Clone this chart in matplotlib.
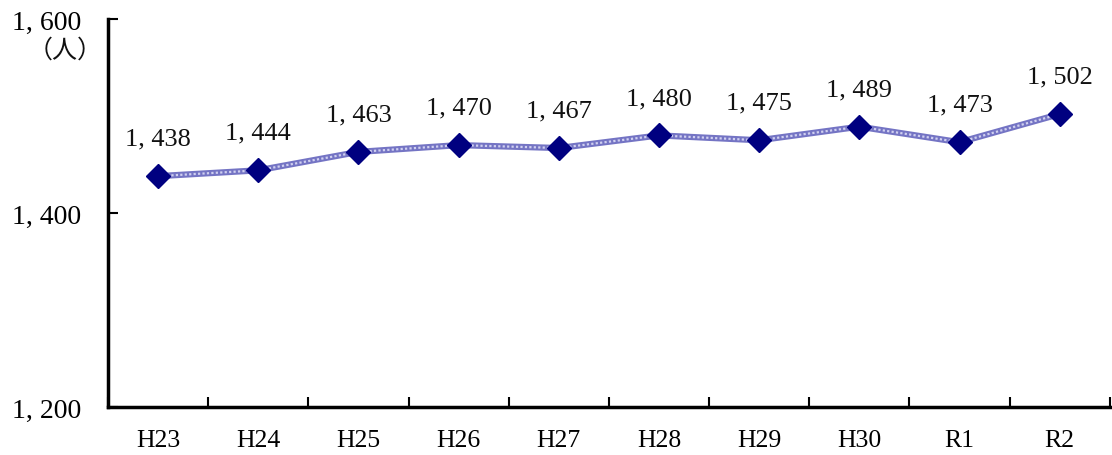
import matplotlib
matplotlib.use("Agg")
import matplotlib.pyplot as plt
import numpy as np

categories = ["H23", "H24", "H25", "H26", "H27", "H28", "H29", "H30", "R1", "R2"]
values = [1438, 1444, 1463, 1470, 1467, 1480, 1475, 1489, 1473, 1502]
yticks = [1200, 1400, 1600]
ytick_labels = ["1, 200", "1, 400", "1, 600"]

plt.rcParams['font.family'] = ['Liberation Serif', 'DejaVu Serif']

fig = plt.figure(figsize=(11.12, 4.56), dpi=100)
ax = fig.add_axes([0.0971, 0.1053, 0.9009, 0.8508])

x = np.arange(len(categories))
ax.plot(x, values, color='#7474c4', lw=4.5, solid_capstyle='butt', zorder=2)
ax.plot(x, values, color='#d0d0f0', lw=1.6, ls=(0, (1, 1)), zorder=3)
ax.plot(x, values, ls='none', marker='D', ms=12, color='#000080', zorder=4)

for xi, v in zip(x, values):
    ax.annotate(f"{v // 1000}, {v % 1000:03d}", (xi, v), xytext=(0, 19),
                textcoords='offset points', ha='center', va='bottom', fontsize=19, color='#111111')

ax.set_xlim(-0.5, len(categories) - 0.5)
ax.set_ylim(1200, 1600)
ax.set_yticks(yticks)
ax.set_yticklabels(ytick_labels, fontsize=20)
ax.set_xticks(np.arange(len(categories) + 1) - 0.5)
ax.set_xticklabels([])
ax.set_xticks(x, minor=True)
ax.set_xticklabels(categories, minor=True, fontsize=18.5)
ax.tick_params(axis='x', which='major', direction='in', length=7, width=1.5)
ax.tick_params(axis='x', which='minor', length=0, pad=16)
ax.tick_params(axis='y', direction='in', length=7, width=1.5, pad=19)

for s in ['top', 'right']:
    ax.spines[s].set_visible(False)
for s in ['left', 'bottom']:
    ax.spines[s].set_linewidth(2.5)

fig.text(0.059, 0.89, "（人）", ha='center', va='center', fontsize=18,
         family=['Noto Sans CJK JP', 'DejaVu Sans'], color='#111111')

fig.savefig("out.png", dpi=100)
